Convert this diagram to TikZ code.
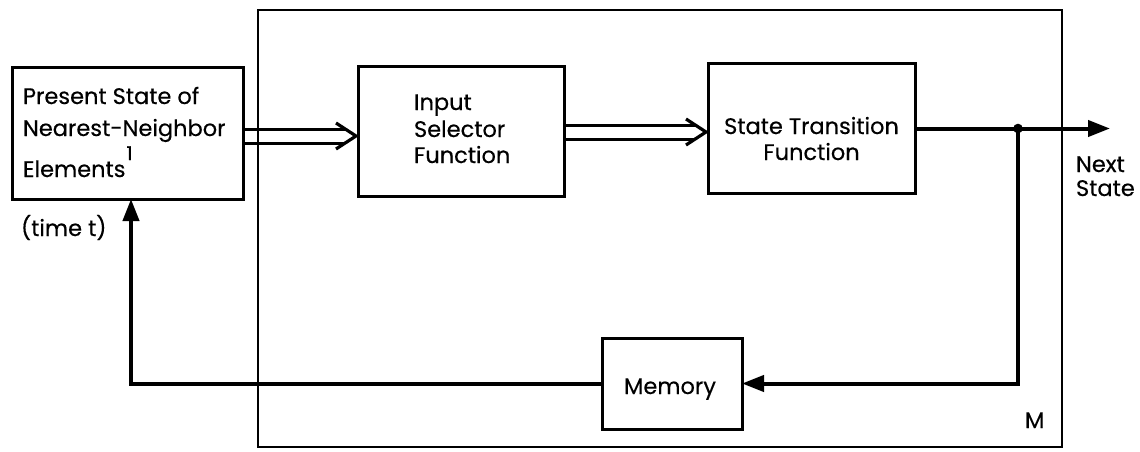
\documentclass[tikz,border=0pt]{standalone}
\usepackage{fontspec}
\setmainfont{Poppins}[FakeBold=0.4]
\usetikzlibrary{arrows.meta,calc}
\begin{document}
\begin{tikzpicture}[x=1pt,y=-1pt,
  blk/.style={draw, line width=3pt, inner sep=0pt, outer sep=0pt},
  frame/.style={draw, line width=1.8pt, inner sep=0pt, outer sep=0pt},
  lbl/.style={inner sep=0pt, outer sep=0pt, font=\fontsize{22.5}{22.5}\selectfont},
  sup/.style={inner sep=0pt, outer sep=0pt, font=\fontsize{19}{19}\selectfont},
  thk/.style={line width=4pt},
  solidtip/.style={-{Triangle[length=22pt,width=16pt]}},
  dline/.style={line width=3pt},
  chev/.style={line width=3.2pt, line join=miter}]
\useasboundingbox (0,0) rectangle (1140,452);
% frame M
\node[frame, minimum width=804pt, minimum height=437pt] (M) at (660,228.5) {};
% boxes
\node[blk, minimum width=231pt, minimum height=131pt] (ps) at (127.5,133.5) {};
\node[blk, minimum width=206pt, minimum height=129pt] (is) at (461,131.5) {};
\node[blk, minimum width=207pt, minimum height=129pt] (st) at (811.5,128.5) {};
\node[blk, minimum width=140pt, minimum height=91pt] (mem) at (672,383.5) {};
% texts
\node[lbl, anchor=base west] (ps1) at (23,104) {Present State of};
\node[lbl, anchor=base west] (ps2) at (23,136) {Nearest-Neighbor};
\node[lbl, anchor=base west] (ps3) at (23,177) {Elements};
\node[sup, anchor=base west] (ps4) at ($(ps3.base east)+(1,-17)$) {1};
\node[lbl, anchor=base west] (is1) at (414,110) {Input};
\node[lbl, anchor=base west] (is2) at (414,137) {Selector};
\node[lbl, anchor=base west] (is3) at (414,163) {Function};
\node[lbl, anchor=base] (st1) at (811.5,134) {State Transition};
\node[lbl, anchor=base] (st2) at (811.5,160) {Function};
\node[lbl, anchor=base] (memt) at (670,394) {Memory};
\node[lbl, anchor=base west] (nx1) at (1076,172) {Next};
\node[lbl, anchor=base west] (nx2) at (1076,196) {State};
\node[lbl, anchor=base west] (tt) at (21,236) {(time t)};
\node[lbl, anchor=base west] (ml) at (1025,428) {M};
% hollow double arrows
\coordinate (a1s) at ($(ps.east)+(0,2.5)$);
\coordinate (a1e) at ($(a1s -| is.west)+(-2,0)$);
\draw[dline] ($(a1s)+(0,-7)$) -- ($(a1e)+(-11,-7)$);
\draw[dline] ($(a1s)+(0,7)$) -- ($(a1e)+(-11,7)$);
\draw[chev] ($(a1e)+(-20,-13)$) -- (a1e) -- ($(a1e)+(-20,13)$);
\coordinate (a2s) at ($(is.east)+(0,0.5)$);
\coordinate (a2e) at ($(a2s -| st.west)+(-2,0)$);
\draw[dline] ($(a2s)+(0,-7)$) -- ($(a2e)+(-11,-7)$);
\draw[dline] ($(a2s)+(0,7)$) -- ($(a2e)+(-11,7)$);
\draw[chev] ($(a2e)+(-20,-13)$) -- (a2e) -- ($(a2e)+(-20,13)$);
% solid connectors
\coordinate (ns) at (1110,128.5);
\coordinate (j) at (1018,128.5);
\draw[thk, solidtip] (st.east) -- (ns);
\draw[thk, solidtip] (j) |- (mem.east);
\draw[thk, solidtip] (mem.west) -| ([xshift=3.5pt]ps.south);
\fill (j) circle (4.8pt);
\end{tikzpicture}
\end{document}
